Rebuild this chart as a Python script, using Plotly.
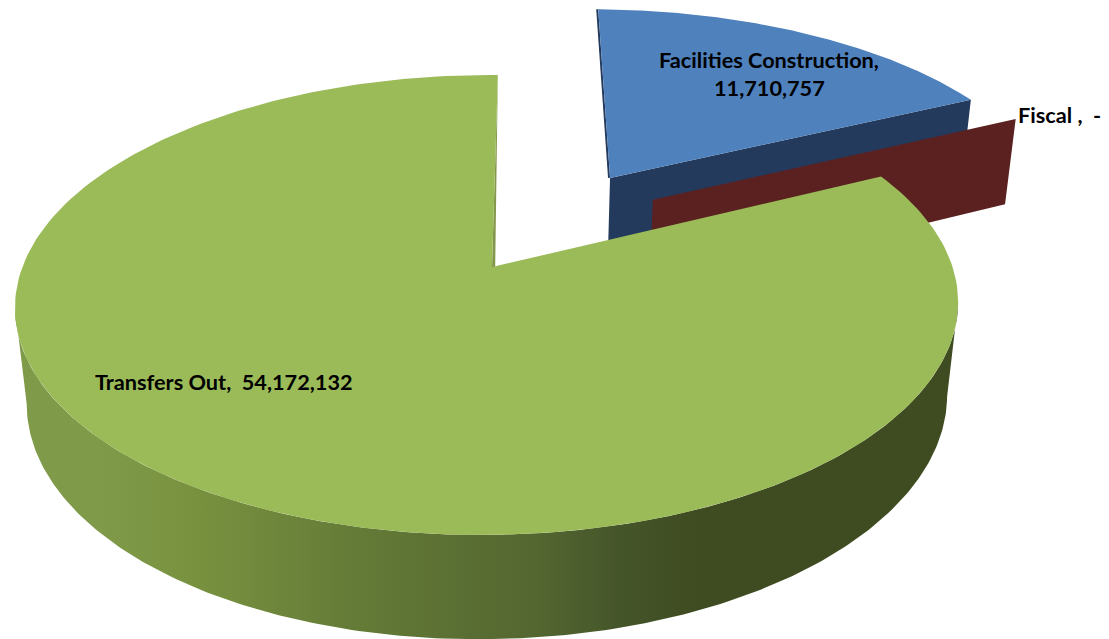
import numpy as np
import plotly.graph_objects as go

# Budget shares, clockwise from twelve o'clock
categories = ["Facilities Construction", "Fiscal", "Transfers Out"]
values = [11710757, 0, 54172132]

top_colors = ["#4f81bd", "#c0504d", "#9bbb59"]
wall_colors = ["#233a5c", "#5a2120", "#3f4b20"]
# Exploded slices are pushed out in the plane of the pie, in radius units
explode = [(0.264, 0.428), (0.358, 0.318), (0.0, 0.0)]
# Sideways stretch of each slice's rim
stretch = [1.02, 1.02, 1.0]

# Shading across the green side wall: pixel column, colour
wall_shade_x = [16, 100, 200, 340, 450, 540, 620, 700, 958]
wall_shade_c = ["#7f9a48", "#7f9a48", "#77913f", "#667d38", "#5b7033",
                "#536630", "#45552a", "#3f4b20", "#3f4b20"]

WIDTH, HEIGHT = 1109, 639
U0, V0 = 494.0, 267.0      # screen position of the pie centre
A, B = 465.0, 223.7        # horizontal and vertical scale of the disc
K, J = 0.165, 0.014        # perspective falloff with depth and across
M, C = 0.024, 96.0         # perspective and screen drop for the pie thickness
SKEW = 0.02


def project(x, y, depth=0.0):
    x, y = np.asarray(x, float), np.asarray(y, float)
    w = 1 + K * y + J * x + M * depth
    v = V0 - (B * y - C * depth) / w
    plane_v = V0 - B * y / (1 + K * y + J * x)
    u = U0 + A * x / w + SKEW * (V0 - plane_v)
    return u, v


def rim(t0, t1, off, sx=1.0, depth=0.0, n=240):
    t = np.radians(np.linspace(t0, t1, n))
    return project(off[0] + sx * np.sin(t), off[1] + np.cos(t), depth)


def polygon(u, v, color, **extra):
    return go.Scatter(x=np.asarray(u), y=np.asarray(v), mode="lines", fill="toself",
                      fillcolor=color, line=dict(width=0, color=color),
                      hoverinfo="skip", showlegend=False, **extra)


def cut_face(angle, off, sx, color):
    tx = off[0] + sx * np.sin(np.radians(angle))
    ty = off[1] + np.cos(np.radians(angle))
    ua, va = project(off[0], off[1])
    ur, vr = project(tx, ty)
    ub, vb = project(tx, ty, 1)
    uc, vc = project(off[0], off[1], 1)
    return polygon([ua, ur, ub, uc], [va, vr, vb, vc], color)


total = sum(values)
edges = np.concatenate([[0.0], np.cumsum(values) / total * 360.0])
fig = go.Figure()

# Blue slice: cut face, then its top
off = explode[0]
t0, t1 = edges[0], edges[1]
fig.add_trace(cut_face(t1, off, stretch[0], wall_colors[0]))
ua, va = project(off[0], off[1])
ur, vr = rim(t0, t1, off, stretch[0])
fig.add_trace(go.Scatter(x=[ur[0] - 1, ua - 1], y=[vr[0], va], mode="lines",
                         line=dict(color=wall_colors[0], width=2),
                         hoverinfo="skip", showlegend=False))
fig.add_trace(polygon(np.r_[ua, ur], np.r_[va, vr], top_colors[0]))

# The empty slice only shows its cut face
fig.add_trace(cut_face(edges[2], explode[1], stretch[1], wall_colors[1]))

# Green slice: outer wall with gradient, sliver of the cut face, then its top
off = explode[2]
t0, t1 = edges[2], edges[3]
ut, vt = rim(90, 270, off)
ub, vb = rim(90, 270, off, depth=1)
i0, i1 = np.argmax(ut), np.argmin(ut)
j0, j1 = np.argmax(ub), np.argmin(ub)
span = wall_shade_x[-1] - wall_shade_x[0]
scale = [[(x - wall_shade_x[0]) / span, c] for x, c in zip(wall_shade_x, wall_shade_c)]
fig.add_trace(go.Scatter(
    x=np.r_[ut[i0:i1 + 1], ub[j0:j1 + 1][::-1]],
    y=np.r_[vt[i0:i1 + 1], vb[j0:j1 + 1][::-1]],
    mode="lines", fill="toself", line=dict(width=0),
    fillgradient=dict(type="horizontal", colorscale=scale,
                      start=wall_shade_x[0], stop=wall_shade_x[-1]),
    hoverinfo="skip", showlegend=False))

ua, va = project(off[0], off[1])
ur, vr = rim(t0, t1, off)
fig.add_trace(polygon(np.r_[ur[-1], ua - 2, ua + 1.2], np.r_[vr[-1], va, va], "#84984d"))
fig.add_trace(polygon(np.r_[ua - 2, ur], np.r_[va, vr], top_colors[2]))


def label(name, value):
    amount = f"{value:,.0f}" if value else "-"
    return name, amount


text_style = dict(family="Lato", size=21.7, color="#000000", weight="bold")
name, amount = label(categories[0], values[0])
annotations = [
    dict(x=769, y=60, text=f"{name},", xanchor="center"),
    dict(x=769, y=88, text=amount, xanchor="center"),
]
name, amount = label(categories[1], values[1])
annotations.append(dict(x=1018, y=115, text=f"{name} ,  {amount}", xanchor="left"))
name, amount = label(categories[2], values[2])
annotations.append(dict(x=95, y=382, text=f"{name},  {amount}", xanchor="left"))
for a in annotations:
    a.update(showarrow=False, yanchor="middle", font=text_style, xref="x", yref="y",
             borderpad=0, borderwidth=0)

hidden = dict(visible=False, showgrid=False, zeroline=False, fixedrange=True)
fig.update_layout(
    width=WIDTH, height=HEIGHT, margin=dict(l=0, r=0, t=0, b=0),
    paper_bgcolor="#ffffff", plot_bgcolor="#ffffff", showlegend=False,
    xaxis=dict(range=[0, WIDTH], **hidden),
    yaxis=dict(range=[HEIGHT, 0], **hidden),
    annotations=annotations,
)
fig.write_html("out.html", config=dict(displayModeBar=False))
